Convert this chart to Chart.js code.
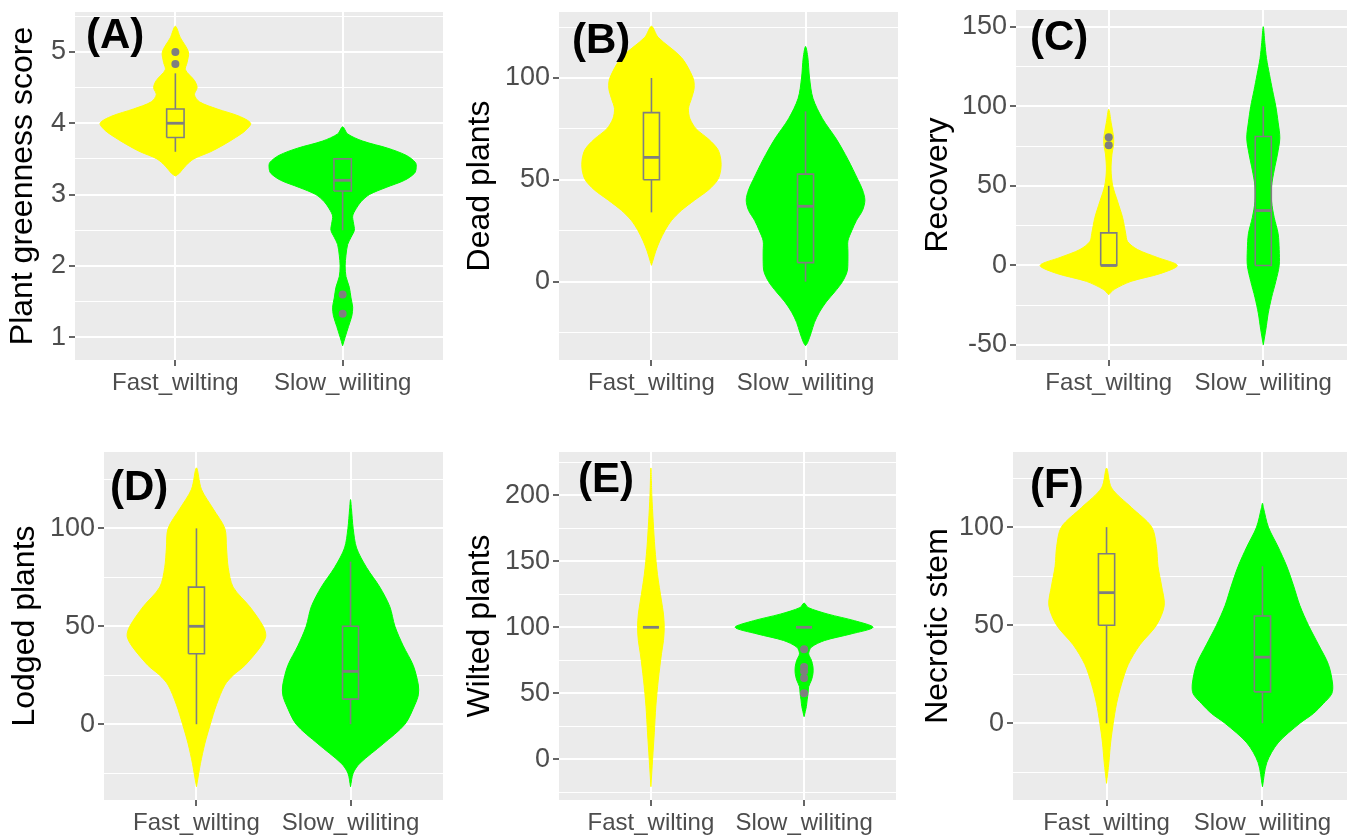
<!DOCTYPE html>
<html>
<head>
<meta charset="utf-8">
<script src="https://cdn.jsdelivr.net/npm/chart.js@4.4.0/dist/chart.umd.min.js"></script>
<style>
  html, body { margin: 0; padding: 0; background: #fff; overflow: hidden; width: 1347px; height: 838px; }
  canvas { position: absolute; }
</style>
</head>
<body>
<canvas id="chart-a" width="449" height="420" style="left:0;top:0"></canvas>
<canvas id="chart-b" width="451" height="420" style="left:449px;top:0"></canvas>
<canvas id="chart-c" width="460" height="420" style="left:900px;top:0"></canvas>
<canvas id="chart-d" width="449" height="418" style="left:0;top:420px"></canvas>
<canvas id="chart-e" width="451" height="418" style="left:449px;top:420px"></canvas>
<canvas id="chart-f" width="460" height="418" style="left:900px;top:420px"></canvas>
<script>
const categories = ['Fast_wilting', 'Slow_wiliting'];

// box stats are [lower whisker, Q1, median, Q3, upper whisker]

// (A) Plant greenness score
const greenTicks = [1, 2, 3, 4, 5];
const greenMinor = [1.5, 2.5, 3.5, 4.5, 5.5];
const greenFastY = [5.36, 5.2, 5.0, 4.85, 4.75, 4.6, 4.5, 4.4, 4.3, 4.2, 4.1, 4.0, 3.9, 3.8, 3.7, 3.6, 3.5, 3.4, 3.3, 3.26];
const greenFastW = [0, 0.03, 0.078, 0.07, 0.06, 0.114, 0.13, 0.114, 0.144, 0.25, 0.38, 0.45, 0.42, 0.36, 0.29, 0.21, 0.11, 0.06, 0.024, 0];
const greenSlowY = [3.95, 3.85, 3.75, 3.65, 3.55, 3.45, 3.38, 3.3, 3.2, 3.1, 3.0, 2.9, 2.8, 2.7, 2.6, 2.5, 2.4, 2.3, 2.15, 2.0, 1.85, 1.7, 1.55, 1.42, 1.3, 1.15, 1.0, 0.88];
const greenSlowW = [0, 0.03, 0.12, 0.27, 0.38, 0.435, 0.44, 0.43, 0.37, 0.26, 0.16, 0.11, 0.08, 0.06, 0.065, 0.07, 0.05, 0.03, 0.02, 0.015, 0.02, 0.04, 0.05, 0.06, 0.055, 0.035, 0.015, 0];
const greenFastBox = [3.6, 3.8, 4.0, 4.2, 4.7];
const greenSlowBox = [2.5, 3.05, 3.2, 3.5, 3.5];
const greenFastOut = [5.0, 4.83];
const greenSlowOut = [1.6, 1.33];

// (B) Dead plants
const deadTicks = [0, 50, 100];
const deadMinor = [-25, 25, 75, 125];
const deadFastY = [125.4, 120, 110, 100, 95, 90, 85, 80, 75, 70, 65, 60, 55, 50, 45, 40, 35, 30, 25, 20, 15, 10, 8];
const deadFastW = [0, 0.043, 0.195, 0.27, 0.277, 0.26, 0.24, 0.25, 0.29, 0.37, 0.43, 0.45, 0.45, 0.43, 0.37, 0.28, 0.195, 0.13, 0.087, 0.054, 0.028, 0.008, 0];
const deadSlowY = [115.5, 110, 100, 90, 80, 70, 60, 50, 45, 40, 35, 30, 25, 20, 15, 10, 5, 0, -5, -10, -15, -20, -25, -30, -31.5];
const deadSlowW = [0, 0.015, 0.026, 0.048, 0.11, 0.2, 0.275, 0.34, 0.37, 0.385, 0.37, 0.33, 0.3, 0.275, 0.275, 0.275, 0.27, 0.24, 0.19, 0.134, 0.09, 0.058, 0.037, 0.013, 0];
const deadFastBox = [34, 50, 61, 83, 100];
const deadSlowBox = [0, 9.3, 37, 52.8, 83.6];

// (C) Recovery
const recovTicks = [-50, 0, 50, 100, 150];
const recovMinor = [-25, 25, 75, 125];
const recovFastY = [98.2, 90, 80, 75, 70, 60, 50, 40, 30, 20, 15, 10, 5, 0, -5, -10, -15, -18.4];
const recovFastW = [0, 0.015, 0.032, 0.03, 0.021, 0.015, 0.026, 0.058, 0.09, 0.11, 0.122, 0.186, 0.315, 0.444, 0.337, 0.144, 0.036, 0];
const recovSlowY = [150, 140, 130, 120, 110, 100, 90, 80, 70, 60, 50, 40, 30, 20, 10, 0, -10, -20, -30, -40, -49.8];
const recovSlowW = [0, 0.01, 0.021, 0.04, 0.06, 0.081, 0.096, 0.107, 0.092, 0.071, 0.054, 0.054, 0.071, 0.096, 0.103, 0.103, 0.081, 0.054, 0.032, 0.017, 0];
const recovFastBox = [0, 0, 0, 20.5, 50];
const recovSlowBox = [0, 0, 34.5, 81, 100];
const recovFastOut = [80.5, 75.5];

// (D) Lodged plants
const lodgedTicks = [0, 50, 100];
const lodgedMinor = [-25, 25, 75, 125];
const lodgedFastY = [130.9, 120, 110, 100, 90, 80, 70, 60, 50, 45, 40, 30, 25, 20, 10, 0, -10, -20, -25, -31.9];
const lodgedFastW = [0, 0.032, 0.108, 0.184, 0.195, 0.206, 0.238, 0.346, 0.433, 0.45, 0.42, 0.314, 0.238, 0.184, 0.13, 0.09, 0.054, 0.026, 0.015, 0];
const lodgedSlowY = [114.7, 110, 100, 90, 80, 70, 60, 50, 40, 30, 20, 15, 10, 0, -10, -20, -25, -31.9];
const lodgedSlowW = [0, 0.006, 0.017, 0.039, 0.104, 0.19, 0.255, 0.288, 0.342, 0.407, 0.44, 0.44, 0.418, 0.353, 0.212, 0.06, 0.017, 0];
const lodgedFastBox = [0, 36, 50, 70, 100];
const lodgedSlowBox = [0, 12.8, 27, 50, 83];

// (E) Wilted plants
const wiltedTicks = [0, 50, 100, 150, 200];
const wiltedMinor = [-25, 25, 75, 125, 175, 225];
const wiltedFastY = [220.8, 200, 180, 160, 140, 120, 110, 100, 90, 80, 60, 40, 20, 0, -20.8];
const wiltedFastW = [0, 0.006, 0.015, 0.026, 0.043, 0.069, 0.082, 0.087, 0.082, 0.069, 0.048, 0.032, 0.022, 0.011, 0];
const wiltedSlowY = [118.4, 115, 110, 105, 100, 95, 90, 85, 80, 75, 70, 65, 60, 55, 50, 45, 40, 32.3];
const wiltedSlowW = [0, 0.026, 0.156, 0.33, 0.45, 0.307, 0.134, 0.048, 0.03, 0.048, 0.058, 0.058, 0.048, 0.03, 0.026, 0.02, 0.015, 0];
const wiltedFastBox = [100, 100, 100, 100, 100];
const wiltedSlowBox = [100, 100, 100, 100, 100];
const wiltedSlowOut = [83.3, 70, 66.7, 61.5, 50];

// (F) Necrotic stem
const necroticTicks = [0, 50, 100];
const necroticMinor = [-25, 25, 75, 125];
const necroticFastY = [130.1, 120, 110, 100, 90, 80, 70, 60, 50, 40, 30, 20, 10, 0, -10, -20, -30.6];
const necroticFastW = [0, 0.032, 0.16, 0.29, 0.32, 0.33, 0.353, 0.37, 0.32, 0.214, 0.139, 0.096, 0.064, 0.043, 0.026, 0.015, 0];
const necroticSlowY = [112.2, 110, 100, 90, 80, 70, 60, 50, 40, 30, 20, 15, 10, 5, 0, -10, -20, -32.3];
const necroticSlowW = [0, 0.006, 0.038, 0.1, 0.156, 0.2, 0.24, 0.295, 0.36, 0.423, 0.45, 0.444, 0.39, 0.327, 0.24, 0.1, 0.028, 0];
const necroticFastBox = [0, 50, 66.6, 86.4, 100];
const necroticSlowBox = [0, 16, 33.7, 54.7, 80];

const FAST = 'rgb(255, 255, 0)';
const SLOW = 'rgb(0, 255, 0)';
const BOX_GREY = '#7f7f7f';
const FONT = '"Liberation Sans", Arial, sans-serif';

Chart.defaults.font.family = FONT;

const panelBg = {
  id: 'panelBg',
  beforeDraw(chart) {
    const a = chart.chartArea;
    const ctx = chart.ctx;
    ctx.save();
    ctx.fillStyle = '#ebebeb';
    ctx.fillRect(a.left, a.top, a.right - a.left, a.bottom - a.top);
    ctx.restore();
  }
};

const panelLetter = {
  id: 'panelLetter',
  afterDraw(chart, args, opts) {
    const ctx = chart.ctx;
    ctx.save();
    ctx.font = 'bold 42px ' + FONT;
    ctx.fillStyle = '#000';
    ctx.textBaseline = 'alphabetic';
    ctx.fillText(opts.text, opts.x, opts.y);
    ctx.restore();
  }
};

function violin(center, ys, ws, color) {
  const pts = [];
  for (let i = ys.length - 1; i >= 0; i--) pts.push({x: center + ws[i], y: ys[i]});
  for (let i = 1; i < ys.length; i++) pts.push({x: center - ws[i], y: ys[i]});
  return {data: pts, fill: 'shape', backgroundColor: color, borderColor: color, borderWidth: 1,
    pointRadius: 0, tension: 0.3, order: 3};
}

function boxplot(center, b) {
  const hw = 0.052;
  const seg = (pts, w) => ({data: pts, borderColor: BOX_GREY, borderWidth: w, pointRadius: 0,
    fill: false, tension: 0, order: 1});
  const [lo, q1, med, q3, hi] = b;
  return [
    seg([{x: center - hw, y: q1}, {x: center + hw, y: q1}, {x: center + hw, y: q3},
         {x: center - hw, y: q3}, {x: center - hw, y: q1}], 1.6),
    seg([{x: center - hw, y: med}, {x: center + hw, y: med}], 2.8),
    seg([{x: center, y: lo}, {x: center, y: q1}], 1.6),
    seg([{x: center, y: q3}, {x: center, y: hi}], 1.6)
  ];
}

function outliers(center, ys) {
  return {data: ys.map(y => ({x: center, y: y})), showLine: false, pointRadius: 4,
    pointBackgroundColor: BOX_GREY, pointBorderWidth: 0, order: 0};
}

function createConfig(p) {
  const isMajor = v => p.ticks.indexOf(v) >= 0;
  const datasets = [
    violin(1, p.fastY, p.fastW, FAST),
    violin(2, p.slowY, p.slowW, SLOW)
  ].concat(boxplot(1, p.fastBox), boxplot(2, p.slowBox));
  if (p.fastOut) datasets.push(outliers(1, p.fastOut));
  if (p.slowOut) datasets.push(outliers(2, p.slowOut));
  const L = p.layout;
  return {
    type: 'line',
    data: {datasets: datasets},
    plugins: [panelBg, panelLetter],
    options: {
      responsive: false,
      animation: false,
      events: [],
      layout: {padding: {left: 0, top: L.top, right: L.right, bottom: 0}},
      plugins: {
        legend: {display: false},
        tooltip: {enabled: false},
        panelLetter: {text: p.letter, x: L.letterX, y: L.letterY}
      },
      scales: {
        x: {
          type: 'linear', min: 0.4, max: 2.6,
          afterBuildTicks: s => { s.ticks = [{value: 1}, {value: 2}]; },
          afterFit: s => { s.height = L.xAxisHeight; s.paddingLeft = 0; s.paddingRight = 0; },
          ticks: {callback: v => categories[v - 1], color: '#4d4d4d', font: {size: 24},
            padding: 3, autoSkip: false, maxRotation: 0},
          grid: {color: '#fff', lineWidth: 2, tickColor: '#333', tickLength: 6, tickWidth: 1.5},
          border: {display: false}
        },
        y: {
          type: 'linear', min: p.yMin, max: p.yMax,
          afterBuildTicks: s => {
            s.ticks = p.ticks.concat(p.minor).sort((a, b) => a - b).map(v => ({value: v}));
          },
          afterFit: s => { s.width = L.yAxisWidth; s.paddingTop = 0; s.paddingBottom = 0; },
          ticks: {callback: v => isMajor(v) ? String(v) : '', color: '#4d4d4d', font: {size: 27},
            padding: 3, autoSkip: false},
          grid: {
            color: '#fff',
            lineWidth: c => (c.tick && isMajor(c.tick.value)) ? 2 : 1,
            tickColor: c => (c.tick && isMajor(c.tick.value)) ? '#333' : 'rgba(0,0,0,0)',
            tickLength: 6, tickWidth: 1.5
          },
          border: {display: false},
          title: {display: true, text: p.title, color: '#000', font: {size: 32},
            padding: {top: L.titlePad, bottom: 0}}
        }
      }
    }
  };
}

const panels = [
  {canvas: 'chart-a', letter: '(A)', title: 'Plant greenness score', ticks: greenTicks, minor: greenMinor,
   yMin: 0.68, yMax: 5.56, fastY: greenFastY, fastW: greenFastW, slowY: greenSlowY, slowW: greenSlowW,
   fastBox: greenFastBox, slowBox: greenSlowBox, fastOut: greenFastOut, slowOut: greenSlowOut,
   layout: {yAxisWidth: 75, top: 12, right: 6, xAxisHeight: 60, titlePad: 4, letterX: 86, letterY: 48}},
  {canvas: 'chart-b', letter: '(B)', title: 'Dead plants', ticks: deadTicks, minor: deadMinor,
   yMin: -38.5, yMax: 132.4, fastY: deadFastY, fastW: deadFastW, slowY: deadSlowY, slowW: deadSlowW,
   fastBox: deadFastBox, slowBox: deadSlowBox,
   layout: {yAxisWidth: 110, top: 12, right: 2, xAxisHeight: 60, titlePad: 12, letterX: 123, letterY: 53}},
  {canvas: 'chart-c', letter: '(C)', title: 'Recovery', ticks: recovTicks, minor: recovMinor,
   yMin: -59.4, yMax: 160.5, fastY: recovFastY, fastW: recovFastW, slowY: recovSlowY, slowW: recovSlowW,
   fastBox: recovFastBox, slowBox: recovSlowBox, fastOut: recovFastOut,
   layout: {yAxisWidth: 116, top: 10, right: 3, xAxisHeight: 60, titlePad: 19, letterX: 130, letterY: 50}},
  {canvas: 'chart-d', letter: '(D)', title: 'Lodged plants', ticks: lodgedTicks, minor: lodgedMinor,
   yMin: -38.7, yMax: 139, fastY: lodgedFastY, fastW: lodgedFastW, slowY: lodgedSlowY, slowW: lodgedSlowW,
   fastBox: lodgedFastBox, slowBox: lodgedSlowBox,
   layout: {yAxisWidth: 104, top: 32, right: 6, xAxisHeight: 38, titlePad: 6, letterX: 110, letterY: 80}},
  {canvas: 'chart-e', letter: '(E)', title: 'Wilted plants', ticks: wiltedTicks, minor: wiltedMinor,
   yMin: -30.9, yMax: 232.9, fastY: wiltedFastY, fastW: wiltedFastW, slowY: wiltedSlowY, slowW: wiltedSlowW,
   fastBox: wiltedFastBox, slowBox: wiltedSlowBox, slowOut: wiltedSlowOut,
   layout: {yAxisWidth: 110, top: 32, right: 2, xAxisHeight: 38, titlePad: 12, letterX: 129, letterY: 72}},
  {canvas: 'chart-f', letter: '(F)', title: 'Necrotic stem', ticks: necroticTicks, minor: necroticMinor,
   yMin: -39.1, yMax: 138.3, fastY: necroticFastY, fastW: necroticFastW, slowY: necroticSlowY, slowW: necroticSlowW,
   fastBox: necroticFastBox, slowBox: necroticSlowBox,
   layout: {yAxisWidth: 113, top: 32, right: 4, xAxisHeight: 38, titlePad: 19, letterX: 130, letterY: 78}}
];

window.charts = panels.map(p => new Chart(
  document.getElementById(p.canvas).getContext('2d'),
  createConfig(p)
));
</script>
</body>
</html>
